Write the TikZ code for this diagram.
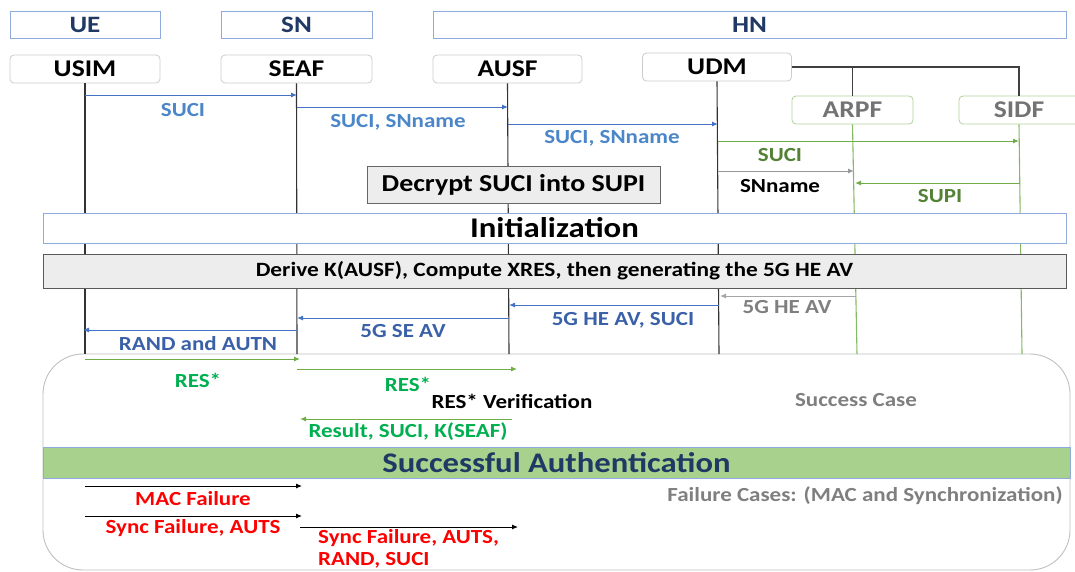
\documentclass[tikz,border=0pt]{standalone}
\usepackage{fontspec}
\setmainfont[FakeStretch=1.15]{Carlito}
\usetikzlibrary{arrows.meta}

\definecolor{hdrblue}{HTML}{8FAADC}
\definecolor{navy}{HTML}{1F3864}
\definecolor{msgblue}{HTML}{4472C4}
\definecolor{lblblue}{HTML}{4A86C8}
\definecolor{lbldark}{HTML}{3A60A8}
\definecolor{hngreen}{HTML}{70AD47}
\definecolor{olive}{HTML}{548235}
\definecolor{resgreen}{HTML}{00B050}
\definecolor{boxgray}{HTML}{EDEDED}
\definecolor{txtgray}{HTML}{7F7F7F}
\definecolor{authgreen}{HTML}{A9D18E}
\definecolor{failred}{HTML}{FF0000}

\tikzset{
  grp/.style={draw=hdrblue, line width=0.8pt, fill=white, text=navy,
    font=\bfseries\fontsize{23.5}{25}\selectfont, inner sep=0pt},
  ent/.style={draw=black!20, line width=0.8pt, rounded corners=4pt, fill=white,
    font=\bfseries\fontsize{24}{26}\selectfont, inner sep=0pt, minimum height=28pt},
  subent/.style={ent, draw=hngreen!55, text=black!55},
  life/.style={line width=1.1pt, black!80},
  glife/.style={line width=1.1pt, hngreen!85},
  msg/.style={line width=1pt, -{Latex[length=6pt,width=5pt]}},
  lbl/.style={font=\bfseries\fontsize{20}{22}\selectfont, inner sep=0pt},
  band/.style={line width=0.8pt, inner sep=0pt},
}

\begin{document}
\begin{tikzpicture}[x=1pt,y=-1pt]
\useasboundingbox (0,0) rectangle (1075,571);

% domain headers
\node[grp, minimum width=150pt, minimum height=27pt] (ue) at (85,24.5) {UE};
\node[grp, minimum width=151pt, minimum height=27pt] (sn) at (296.5,24.5) {SN};
\node[grp, minimum width=633pt, minimum height=27pt] (hn) at (749.5,24.5) {HN};

% bottom frame for the success / failure cases
\draw[black!25, line width=0.9pt, rounded corners=40pt] (43,354) rectangle (1070,570);

% network functions
\node[ent, minimum width=150pt] (usim) at (85,69) {USIM};
\node[ent, minimum width=151pt] (seaf) at (296.5,69) {SEAF};
\node[ent, minimum width=149pt] (ausf) at (507.5,69) {AUSF};
\node[ent, minimum width=149pt] (udm) at (717,67) {UDM};
\node[subent, minimum width=121pt] (arpf) at (852.5,110) {ARPF};
\node[subent, minimum width=120pt] (sidf) at (1019,110) {SIDF};

% UDM hosts ARPF and SIDF
\draw[black!75, line width=1.1pt] (udm.east) -- (1019,67) -- (sidf.north);
\draw[black!75, line width=1.1pt] (852.5,67) -- (arpf.north);

% lifelines
\coordinate (usimEnd) at (85,354);
\coordinate (seafEnd) at (297,354);
\coordinate (ausfEnd) at (509,354);
\coordinate (udmEnd)  at (719,354);
\coordinate (arpfEnd) at (857,354);
\coordinate (sidfEnd) at (1022,354);
\draw[life] (usim.south) -- (usimEnd);
\draw[life] (seaf.south) -- (seafEnd);
\draw[life] (ausf.south) -- (ausfEnd);
\draw[life] (udm.south) -- (udmEnd);
\draw[glife] (arpf.south) -- (arpfEnd);
\draw[glife] (sidf.south) -- (sidfEnd);

% identification requests
\draw[msg, msgblue] (85,95) -- (297,95);
\node[lbl, text=lblblue] (l1) at (183,110) {SUCI};
\draw[msg, msgblue] (297,107) -- (508,107);
\node[lbl, text=lblblue] (l2) at (398,122) {SUCI, SNname};
\draw[msg, msgblue] (508,124) -- (718,124);
\node[lbl, text=lblblue] (l3) at (612,138) {SUCI, SNname};
\draw[msg, hngreen] (718,141) -- (1019,141);
\node[lbl, text=olive] (l4) at (780,155) {SUCI};
\draw[msg, black!40] (718,171) -- (854,171);
\node[lbl, text=black] (l5) at (780,186) {SNname};
\draw[msg, hngreen] (1020,183) -- (855,183);
\node[lbl, text=olive] (l6) at (940,196) {SUPI};

\node[band, draw=black!60, fill=boxgray, minimum width=293pt, minimum height=37pt,
  font=\bfseries\fontsize{24.3}{26}\selectfont] (decrypt) at (513.5,184.5) {Decrypt SUCI into SUPI};

% phases
\node[band, draw=hdrblue, fill=white, minimum width=1023pt, minimum height=30pt,
  font=\bfseries\fontsize{28.5}{30}\selectfont] (init) at (554.5,228) {Initialization};
\node[band, draw=black!65, fill=boxgray, minimum width=1023pt, minimum height=34pt,
  font=\bfseries\fontsize{20.3}{22}\selectfont] (derive) at (554.5,271)
  {Derive K(AUSF), Compute XRES, then generating the 5G HE AV};

% authentication vector delivery
\draw[msg, black!35] (856,296) -- (720,296);
\node[lbl, text=txtgray] (l7) at (787,307) {5G HE AV};
\draw[msg, msgblue] (719,305) -- (509,305);
\node[lbl, text=lbldark] (l8) at (623,320) {5G HE AV, SUCI};
\draw[msg, msgblue] (509,318) -- (297,318);
\node[lbl, text=lbldark] (l9) at (403,331) {5G SE AV};
\draw[msg, msgblue] (297,330) -- (83,330);
\node[lbl, text=lbldark] (l10) at (198,344) {RAND and AUTN};

% success case
\draw[msg, hngreen] (85,359) -- (300,359);
\node[lbl, text=resgreen] (l11) at (198,380) {RES*};
\draw[msg, hngreen] (297,369) -- (517,369);
\node[lbl, text=resgreen] (l12) at (408,384) {RES*};
\node[lbl, text=black] (verif) at (512,401) {RES* Verification};
\node[lbl, text=txtgray] (succ) at (856,400) {Success Case};
\draw[msg, hngreen] (512,419) -- (300,419);
\node[lbl, text=resgreen] (l13) at (408,432) {Result, SUCI, K(SEAF)};

\node[band, draw=hdrblue, fill=authgreen, minimum width=1027pt, minimum height=31pt,
  text=navy, font=\bfseries\fontsize{28.4}{30}\selectfont] (auth) at (556.5,462.5)
  {Successful Authentication};

% failure cases
\node[lbl, text=txtgray] (fail) at (865,496) {Failure Cases: (MAC and Synchronization)};
\draw[msg, black] (85,486) -- (302,486);
\node[lbl, text=failred] (l14) at (193,499) {MAC Failure};
\draw[msg, black] (85,516) -- (302,516);
\node[lbl, text=failred] (l15) at (193,528) {Sync Failure, AUTS};
\draw[msg, black] (300,527) -- (518,527);
\node[lbl, text=failred, anchor=north west, align=left] (l16) at (318,529)
  {Sync Failure, AUTS,\\RAND, SUCI};
\end{tikzpicture}
\end{document}
